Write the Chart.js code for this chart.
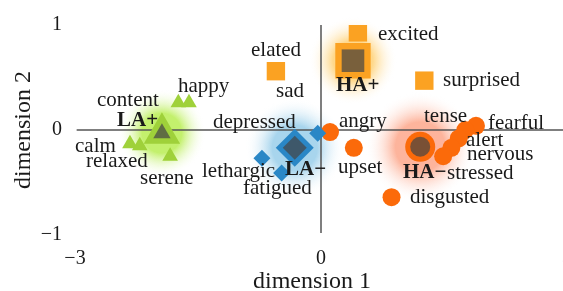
<!DOCTYPE html>
<html>
<head>
  <title>Emotion space</title>
  <script src="https://cdn.jsdelivr.net/npm/chart.js"></script>
  <style>
    body { margin: 0; background: #fff; overflow: hidden; }
    #wrap { width: 592px; height: 291px; }
  </style>
</head>
<body>
  <div id="wrap"><canvas id="chart" width="592" height="291"></canvas></div>
  <script>
    // LA+ group (green triangles)
    const laPosNames = ['content', 'happy', 'calm', 'relaxed', 'serene'];
    const laPosX = [-1.74, -1.61, -2.33, -2.21, -1.84];
    const laPosY = [0.26, 0.26, -0.13, -0.15, -0.25];

    // LA- group (blue diamonds)
    const laNegNames = ['depressed', 'lethargic', 'fatigued'];
    const laNegX = [-0.04, -0.72, -0.48];
    const laNegY = [-0.03, -0.27, -0.41];

    // HA+ group (orange squares)
    const haPosNames = ['elated', 'excited', 'surprised'];
    const haPosX = [-0.55, 0.45, 1.26];
    const haPosY = [0.56, 0.93, 0.47];

    // HA- group (red-orange circles)
    const haNegNames = ['angry', 'upset', 'disgusted', 'fearful', 'tense', 'alert', 'nervous', 'stressed'];
    const haNegX = [0.11, 0.40, 0.86, 1.89, 1.76, 1.68, 1.59, 1.49];
    const haNegY = [-0.02, -0.17, -0.64, 0.04, 0.00, -0.08, -0.17, -0.25];

    // group centroids
    const centroidNames = ['LA+', 'LA\u2212', 'HA+', 'HA\u2212'];
    const centroidX = [-1.94, -0.32, 0.39, 1.21];
    const centroidY = [-0.03, -0.17, 0.66, -0.16];

    // text labels (left edge, middle) in data units
    const labelText = ['elated', 'sad', 'excited', 'surprised', 'happy', 'content', 'depressed', 'calm', 'relaxed',
      'serene', 'lethargic', 'fatigued', 'angry', 'upset', 'stressed', 'tense', 'fearful', 'alert', 'nervous', 'disgusted'];
    const labelX = [-0.854, -0.549, 0.695, 1.488, -1.744, -2.732, -1.317, -3.0, -2.866,
      -2.207, -1.451, -0.951, 0.220, 0.207, 1.537, 1.256, 2.037, 1.768, 1.780, 1.085];
    const labelY = [0.76, 0.363, 0.91, 0.467, 0.41, 0.278, 0.071, -0.156, -0.297,
      -0.458, -0.392, -0.561, 0.08, -0.354, -0.41, 0.127, 0.061, -0.104, -0.231, -0.646];
    const centroidLabelX = [-2.488, -0.439, 0.183, 1.0];
    const centroidLabelY = [0.09, -0.373, 0.42, -0.401];

    const xTicks = [-3, 0, 3];
    const yTicks = [-1, 0, 1];

    const GREEN = '#9fd13a';
    const BLUE = '#2a87c6';
    const AMBER = '#fba222';
    const RED = '#fb6a0a';
    const serif = "'Liberation Serif', 'Times New Roman', serif";

    const pts = (xs, ys) => xs.map((x, i) => ({ x: x, y: ys[i] }));
    const fmt = v => v < 0 ? '\u2212' + (-v) : String(v);

    const glowPlugin = {
      id: 'glow',
      beforeDatasetsDraw(chart) {
        const ctx = chart.ctx;
        const { x, y } = chart.scales;
        const glows = [
          ['rgba(175,235,60,0.75)', 44],
          ['rgba(110,185,225,0.6)', 50],
          ['rgba(255,200,90,0.7)', 44],
          ['rgba(252,130,90,0.6)', 55]
        ];
        ctx.save();
        glows.forEach((g, i) => {
          const cx = x.getPixelForValue(centroidX[i]);
          const cy = y.getPixelForValue(centroidY[i]);
          const grad = ctx.createRadialGradient(cx, cy, 0, cx, cy, g[1]);
          grad.addColorStop(0, g[0]);
          grad.addColorStop(0.45, g[0]);
          grad.addColorStop(1, 'rgba(255,255,255,0)');
          ctx.fillStyle = grad;
          ctx.beginPath();
          ctx.arc(cx, cy, g[1], 0, Math.PI * 2);
          ctx.fill();
        });
        // axes through the origin
        ctx.strokeStyle = '#555';
        ctx.lineWidth = 1.5;
        ctx.beginPath();
        ctx.moveTo(x.getPixelForValue(-2.98), y.getPixelForValue(0));
        ctx.lineTo(x.getPixelForValue(3), y.getPixelForValue(0));
        ctx.moveTo(x.getPixelForValue(0), y.getPixelForValue(1));
        ctx.lineTo(x.getPixelForValue(0), y.getPixelForValue(-0.98));
        ctx.stroke();
        ctx.restore();
      }
    };

    const labelPlugin = {
      id: 'wordLabels',
      afterDatasetsDraw(chart) {
        const ctx = chart.ctx;
        const { x, y } = chart.scales;
        ctx.save();
        ctx.fillStyle = '#1a1a1a';
        ctx.textAlign = 'left';
        ctx.textBaseline = 'middle';
        ctx.font = '21px ' + serif;
        labelText.forEach((t, i) => {
          ctx.fillText(t, x.getPixelForValue(labelX[i]), y.getPixelForValue(labelY[i]));
        });
        ctx.font = 'bold 21px ' + serif;
        centroidNames.forEach((t, i) => {
          ctx.fillText(t, x.getPixelForValue(centroidLabelX[i]), y.getPixelForValue(centroidLabelY[i]));
        });
        ctx.restore();
      }
    };

    new Chart(document.getElementById('chart'), {
      type: 'scatter',
      data: {
        datasets: [
          { data: pts(centroidX, centroidY), order: 0, pointStyle: ['triangle', 'rectRot', 'rect', 'circle'],
            pointRadius: [10, 12, 16, 10], backgroundColor: 'rgba(70,70,70,0.72)', borderWidth: 0 },
          { data: pts(centroidX, centroidY), order: 1, pointStyle: ['triangle', 'rectRot', 'rect', 'circle'],
            pointRadius: [21, 19, 25, 15], backgroundColor: [GREEN, BLUE, AMBER, RED], borderWidth: 0 },
          { data: pts(laPosX, laPosY), order: 2, pointStyle: 'triangle', pointRadius: 9, backgroundColor: GREEN, borderWidth: 0 },
          { data: pts(laNegX, laNegY), order: 2, pointStyle: 'rectRot', pointRadius: 8.5, backgroundColor: BLUE, borderWidth: 0 },
          { data: pts(haPosX, haPosY), order: 2, pointStyle: 'rect', pointRadius: 13, backgroundColor: AMBER, borderWidth: 0 },
          { data: pts(haNegX, haNegY), order: 2, pointStyle: 'circle', pointRadius: 9, backgroundColor: RED, borderWidth: 0 }
        ]
      },
      options: {
        responsive: false,
        animation: false,
        events: [],
        layout: { padding: { top: 23, right: 0, left: 0, bottom: 0 } },
        plugins: { legend: { display: false }, tooltip: { enabled: false } },
        scales: {
          x: {
            type: 'linear', min: -3, max: 3,
            afterBuildTicks: s => { s.ticks = xTicks.map(v => ({ value: v })); },
            afterFit: s => { s.height = 56; },
            grid: { display: false, drawTicks: false },
            border: { display: false },
            ticks: { font: { family: serif, size: 20 }, color: '#1a1a1a', padding: 12, maxRotation: 0, autoSkip: false, callback: v => fmt(v) },
            title: { display: true, text: 'dimension 1\u00a0\u00a0\u00a0', color: '#1a1a1a', padding: 0, font: { family: serif, size: 24, lineHeight: 0.8 } }
          },
          y: {
            type: 'linear', min: -1, max: 1,
            afterBuildTicks: s => { s.ticks = yTicks.map(v => ({ value: v })); },
            afterFit: s => { s.width = 75; },
            grid: { display: false, drawTicks: false },
            border: { display: false },
            ticks: { font: { family: serif, size: 20 }, color: '#1a1a1a', padding: 13, autoSkip: false, callback: v => fmt(v) },
            title: { display: true, text: 'dimension 2', color: '#1a1a1a', padding: { top: 12, bottom: 0 }, font: { family: serif, size: 24, lineHeight: 1 } }
          }
        }
      },
      plugins: [glowPlugin, labelPlugin]
    });
  </script>
</body>
</html>
